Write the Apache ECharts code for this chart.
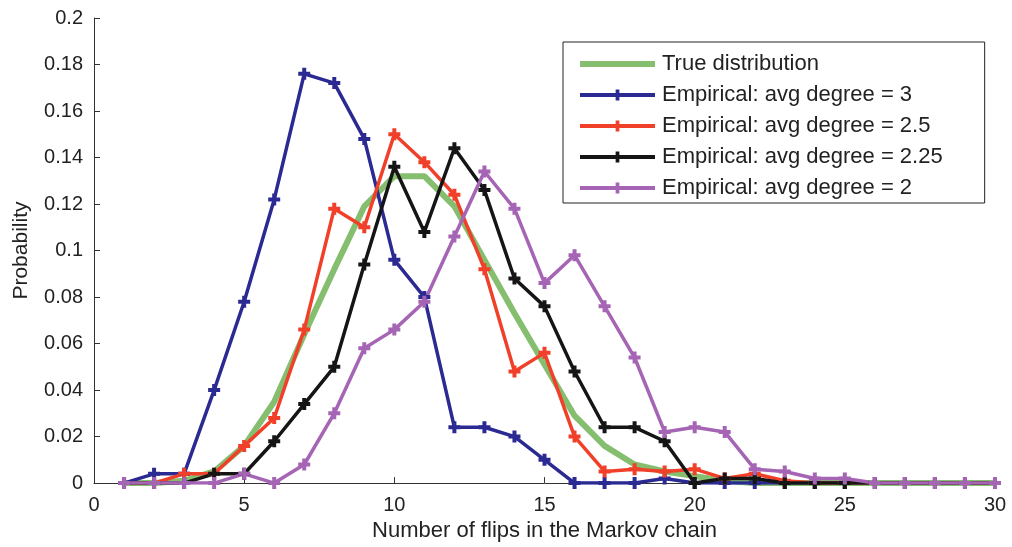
<!DOCTYPE html>
<html>
<head>
<meta charset="utf-8">
<script src="https://cdn.jsdelivr.net/npm/echarts@6/dist/echarts.min.js"></script>
<style>
  html, body { margin: 0; padding: 0; background: #fff; }
  #chart { width: 1012px; height: 547px; }
</style>
</head>
<body>
<div id="chart"></div>
<script>
// Number of flips (x positions shared by every series)
const flips = [1, 2, 3, 4, 5, 6, 7, 8, 9, 10, 11, 12, 13, 14, 15,
               16, 17, 18, 19, 20, 21, 22, 23, 24, 25, 26, 27, 28, 29, 30];

// Probability of each flip count
const trueDist = [0, 0, 0.001, 0.005, 0.016, 0.035, 0.064, 0.092, 0.119, 0.132,
                  0.132, 0.119, 0.096, 0.073, 0.051, 0.029, 0.016, 0.008, 0.005, 0.003,
                  0.001, 0, 0, 0, 0, 0, 0, 0, 0, 0];
const deg3 = [0, 0.004, 0.004, 0.040, 0.078, 0.122, 0.176, 0.172, 0.148, 0.096,
              0.080, 0.024, 0.024, 0.020, 0.010, 0, 0, 0, 0.002, 0,
              0, 0, 0, 0, 0, 0, 0, 0, 0, 0];
const deg25 = [0, 0, 0.004, 0.004, 0.016, 0.028, 0.066, 0.118, 0.110, 0.150,
               0.138, 0.124, 0.092, 0.048, 0.056, 0.020, 0.005, 0.006, 0.005, 0.006,
               0.002, 0.004, 0.001, 0, 0, 0, 0, 0, 0, 0];
const deg225 = [0, 0, 0, 0.004, 0.004, 0.018, 0.034, 0.050, 0.094, 0.136,
                0.108, 0.144, 0.126, 0.088, 0.076, 0.048, 0.024, 0.024, 0.018, 0,
                0.002, 0.002, 0, 0, 0, 0, 0, 0, 0, 0];
const deg2 = [0, 0, 0, 0, 0.004, 0, 0.008, 0.030, 0.058, 0.066,
              0.078, 0.106, 0.134, 0.118, 0.086, 0.098, 0.076, 0.054, 0.022, 0.024,
              0.022, 0.006, 0.005, 0.002, 0.002, 0, 0, 0, 0, 0];

const seriesNames = [
  'True distribution',
  'Empirical: avg degree = 3',
  'Empirical: avg degree = 2.5',
  'Empirical: avg degree = 2.25',
  'Empirical: avg degree = 2'
];
const seriesColors = ['#80ba68', '#2b2a92', '#f0402a', '#151515', '#a564b4'];

const yTicks = [0, 0.02, 0.04, 0.06, 0.08, 0.1, 0.12, 0.14, 0.16, 0.18, 0.2];

const FONT = '"Liberation Sans", Arial, Helvetica, sans-serif';
const PLUS = 'path://M4,0H8V4H12V8H8V12H4V8H0V4H4Z';

function pairs(values) {
  return flips.map((x, i) => [x, values[i]]);
}

function empirical(idx, values) {
  const color = seriesColors[idx];
  return {
    name: seriesNames[idx],
    type: 'line',
    data: pairs(values),
    symbol: PLUS,
    symbolSize: 12,
    showAllSymbol: true,
    lineStyle: { color: color, width: 3.5 },
    itemStyle: { color: color },
    emphasis: { disabled: true },
    animation: false
  };
}

// legend entries: thick line samples, plus marker only on the empirical ones
const legendData = seriesNames.map((name, i) => i === 0
  ? {
      name: name,
      lineStyle: { width: 6, color: seriesColors[0] },
      itemStyle: { color: 'rgba(0,0,0,0)', borderWidth: 0, opacity: 0 }
    }
  : { name: name, lineStyle: { width: 4, color: seriesColors[i] } });

const chart = echarts.init(document.getElementById('chart'), null, { renderer: 'canvas' });

chart.setOption({
  backgroundColor: '#ffffff',
  animation: false,
  textStyle: { fontFamily: FONT },
  grid: { left: 94, right: 17, top: 18, bottom: 61, containLabel: false },
  legend: {
    orient: 'vertical',
    left: 563,
    top: 42,
    padding: [11, 42, 4, 14],
    itemWidth: 75,
    itemHeight: 14,
    itemGap: 9,
    borderColor: '#222',
    borderWidth: 1,
    backgroundColor: '#fff',
    data: legendData,
    textStyle: { fontFamily: FONT, fontSize: 22, color: '#222', lineHeight: 21, padding: [0, 0, 0, 2] }
  },
  xAxis: {
    type: 'value',
    min: 0,
    max: 30,
    interval: 5,
    name: 'Number of flips in the Markov chain',
    nameLocation: 'middle',
    nameGap: 25,
    nameTextStyle: { fontFamily: FONT, fontSize: 22, color: '#222' },
    axisLine: { show: true, onZero: false, lineStyle: { color: '#333', width: 1 } },
    axisTick: { show: true, inside: true, length: 6, lineStyle: { color: '#333' } },
    axisLabel: { fontFamily: FONT, fontSize: 20, color: '#222', margin: 12 },
    splitLine: { show: false }
  },
  yAxis: {
    type: 'value',
    min: 0,
    max: 0.2,
    interval: 0.02,
    name: 'Probability',
    nameLocation: 'middle',
    nameGap: 62,
    nameTextStyle: { fontFamily: FONT, fontSize: 21, color: '#222' },
    axisLine: { show: true, onZero: false, lineStyle: { color: '#333', width: 1 } },
    axisTick: { show: true, inside: true, length: 6, lineStyle: { color: '#333' } },
    axisLabel: {
      fontFamily: FONT, fontSize: 20, color: '#222', margin: 11,
      formatter: function (v) {
        const t = yTicks.find(k => Math.abs(k - v) < 1e-9);
        return String(t !== undefined ? t : +v.toFixed(2));
      }
    },
    splitLine: { show: false }
  },
  series: [
    {
      name: seriesNames[0],
      type: 'line',
      data: pairs(trueDist),
      symbol: 'none',
      lineStyle: { color: seriesColors[0], width: 6, opacity: 0.95 },
      itemStyle: { color: seriesColors[0] },
      emphasis: { disabled: true },
      animation: false
    },
    empirical(1, deg3),
    empirical(2, deg25),
    empirical(3, deg225),
    empirical(4, deg2)
  ]
});
</script>
</body>
</html>
